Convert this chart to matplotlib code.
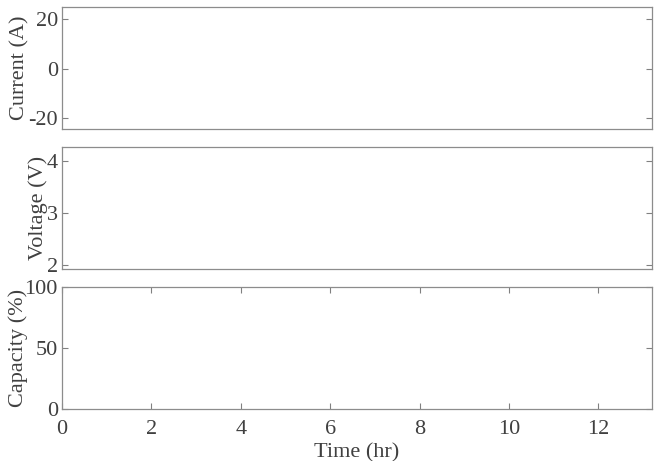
import matplotlib.pyplot as plt

# the reference panels carry no visible traces, only frames and ticks
time_hr = []
current_a = []
voltage_v = []
capacity_pct = []

x_ticks = [0, 2, 4, 6, 8, 10, 12]
current_ticks = [-20, 0, 20]
voltage_ticks = [2, 3, 4]
capacity_ticks = [0, 50, 100]

plt.rcParams["font.family"] = ["Liberation Serif", "DejaVu Serif"]
plt.rcParams["font.size"] = 16
plt.rcParams["axes.unicode_minus"] = False
plt.rcParams["text.color"] = "#404040"
plt.rcParams["axes.labelcolor"] = "#404040"
plt.rcParams["xtick.color"] = "#404040"
plt.rcParams["ytick.color"] = "#404040"

fig = plt.figure(figsize=(6.6, 4.61), dpi=100)
panels = [
    (0.7202, time_hr, current_a, current_ticks, (-24.4, 25.0), "Current (A)", -0.072),
    (0.4165, time_hr, voltage_v, voltage_ticks, (1.92, 4.27), "Voltage (V)", -0.041),
    (0.1128, time_hr, capacity_pct, capacity_ticks, (0, 100), "Capacity (%)", -0.074),
]
axes = []
for bottom, xs, ys, yt, ylim, lab, lx in panels:
    ax = fig.add_axes([0.094, bottom, 0.894, 0.2646])
    ax.plot(xs, ys, color="#2b5f9e", lw=1)
    ax.set_xlim(0, 13.2)
    ax.set_ylim(*ylim)
    ax.set_yticks(yt)
    ax.set_ylabel(lab)
    ax.yaxis.set_label_coords(lx, 0.5)
    ax.yaxis.label.set_verticalalignment("center")
    ax.tick_params(axis="y", direction="in", right=True, length=4, width=0.8,
                   color="#808080", pad=3)
    for s in ax.spines.values():
        s.set_color("#8c8c8c")
        s.set_linewidth(0.9)
    axes.append(ax)

# only the lowest panel has x ticks
for ax in axes[:2]:
    ax.set_xticks([])
axes[2].set_xticks(x_ticks)
axes[2].tick_params(axis="x", direction="in", top=True, length=4, width=0.8,
                    color="#808080", pad=8)
axes[2].set_xlabel("Time (hr)", labelpad=3)

fig.savefig("out.png", dpi=100)
